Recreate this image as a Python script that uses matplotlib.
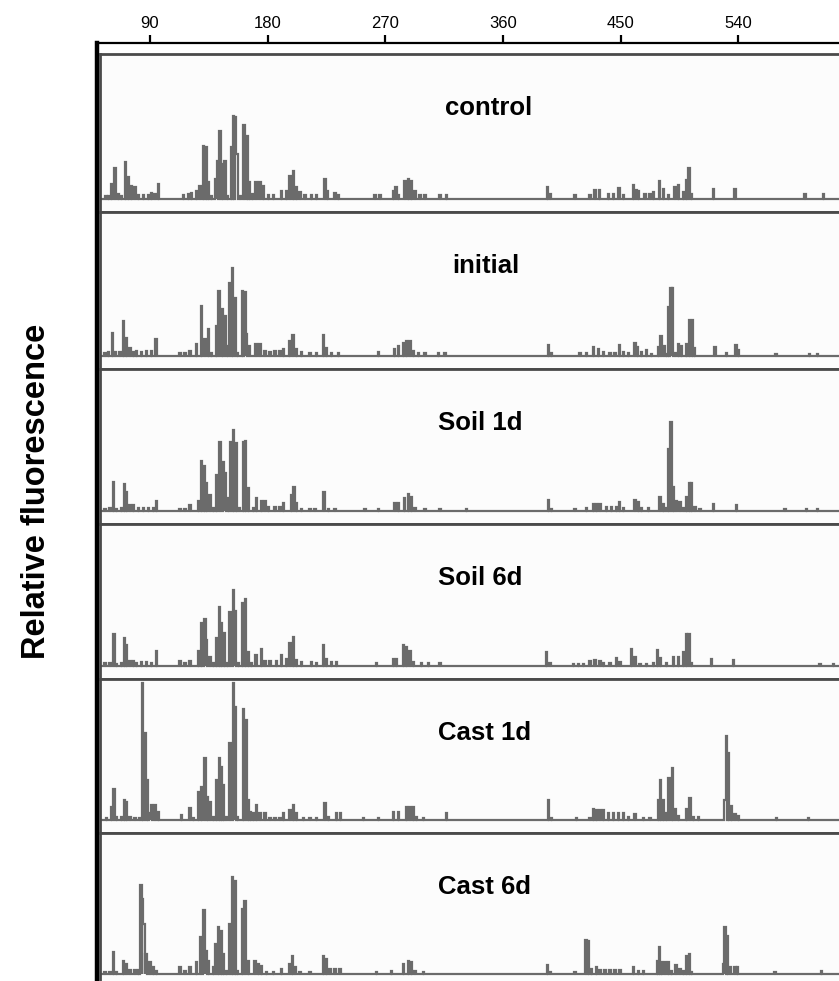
import matplotlib
matplotlib.use("Agg")
import matplotlib.pyplot as plt

plt.rcParams["font.family"] = ["Liberation Sans", "DejaVu Sans"]

# ---- fragment size axis ----
tick_values = [90, 180, 270, 360, 450, 540]
sample_names = ["control", "initial", "Soil 1d", "Soil 6d", "Cast 1d", "Cast 6d"]

# ---- peak positions (bp) and heights (relative fluorescence) per sample ----
control_pos = [56.3, 58.1, 60.6, 63.2, 65.7, 68.3, 71.4, 73.4, 76.0, 78.5, 81.0, 84.9, 88.7, 91.2, 93.8, 96.3,
               115.5, 119.3, 121.9, 125.7, 128.2, 130.8, 133.3, 134.6, 137.1, 140.5, 141.7, 143.5, 145.6, 147.3,
               149.1, 152.5, 153.7, 155.5, 156.5, 158.8, 161.9, 164.4, 166.0, 168.5, 171.1, 174.1, 176.7, 180.5,
               184.3, 190.7, 194.5, 197.1, 199.6, 202.2, 204.7, 208.5, 213.6, 217.5, 223.9, 225.6, 231.5, 234.0,
               262.1, 265.9, 276.1, 278.2, 279.9, 285.1, 287.6, 290.1, 292.7, 296.5, 300.3, 311.8, 316.9,
               394.2, 396.0, 415.1, 426.6, 430.4, 433.7, 440.6, 444.5, 448.8, 452.1, 459.8, 461.8, 463.6, 468.7,
               472.5, 475.1, 479.6, 482.7, 486.5, 491.6, 494.2, 498.0, 500.6, 502.3, 504.4, 521.0, 537.5, 591.1,
               605.1]
control_h = [3, 3, 15, 31, 5, 3, 37, 22, 13, 12, 4, 4, 4, 6, 5, 15,
             4, 5, 6, 8, 13, 53, 52, 17, 3, 20, 38, 68, 35, 38,
             3, 52, 83, 82, 45, 3, 74, 63, 17, 5, 17, 17, 13, 4,
             4, 8, 8, 23, 28, 12, 7, 4, 4, 4, 20, 8, 6, 4,
             4, 4, 8, 12, 4, 18, 20, 18, 8, 4, 4, 4, 4,
             12, 5, 4, 4, 9, 9, 5, 5, 11, 4, 14, 9, 8, 5,
             5, 7, 18, 10, 4, 12, 14, 7, 19, 31, 5, 10, 10, 5,
             5]

initial_pos = [55.6, 58.1, 61.2, 63.2, 67.0, 69.6, 72.1, 74.7, 77.2, 79.8, 83.6, 87.4, 91.3, 94.6, 112.9, 116.8,
               120.6, 125.7, 129.5, 132.1, 134.6, 137.2, 141.0, 142.8, 145.6, 147.4, 149.4, 151.2, 153.2, 155.0,
               157.0, 160.9, 162.7, 163.9, 165.7, 171.1, 174.1, 178.0, 181.8, 185.6, 189.4, 192.0, 196.6, 199.4,
               202.2, 206.0, 212.4, 217.5, 222.6, 225.1, 229.0, 234.1, 264.7, 276.9, 280.0, 283.8, 286.3, 288.9,
               291.4, 295.3, 300.3, 310.6, 315.7,
               394.8, 397.3, 419.0, 424.1, 429.2, 433.0, 436.9, 442.0, 445.8, 449.1, 452.2, 456.0, 461.1, 463.1,
               466.2, 470.0, 473.8, 478.9, 481.0, 483.3, 485.3, 486.8, 488.6, 489.9, 491.7, 494.2, 496.8, 500.6,
               502.6, 504.9, 506.5, 522.3, 531.2, 538.3, 540.1, 569.0, 594.4, 600.6]
initial_h = [3, 4, 23, 4, 4, 35, 18, 8, 4, 5, 4, 5, 5, 17, 3, 3,
             5, 12, 50, 17, 27, 3, 30, 65, 47, 40, 10, 73, 88, 58,
             3, 65, 64, 22, 10, 12, 12, 5, 4, 5, 5, 7, 15, 21,
             7, 4, 3, 3, 21, 8, 3, 3, 4, 7, 10, 13, 15, 15,
             5, 3, 3, 3, 3,
             11, 3, 3, 3, 9, 7, 4, 3, 3, 11, 4, 3, 13, 9,
             4, 6, 2, 9, 20, 10, 2, 49, 68, 68, 3, 12, 10, 12,
             36, 36, 8, 9, 3, 11, 6, 2, 2, 2]

soil1d_pos = [55.6, 59.4, 61.9, 64.5, 68.3, 70.3, 72.1, 74.7, 77.2, 81.1, 84.9, 88.7, 92.5, 95.1, 112.9, 116.8,
              120.6, 127.0, 129.5, 131.5, 133.3, 135.9, 138.4, 141.0, 143.5, 146.1, 147.4, 149.9, 151.9, 153.7,
              156.3, 158.1, 161.4, 163.2, 165.2, 169.0, 171.6, 175.4, 178.0, 180.5, 185.6, 189.4, 192.0, 198.3,
              200.1, 202.2, 206.0, 212.4, 216.2, 223.1, 226.4, 231.5, 254.5, 264.7, 277.4, 280.0, 284.5, 287.6,
              290.2, 292.7, 300.3, 311.8,
              332.3, 394.8, 397.3, 415.2, 424.1, 429.2, 431.8, 434.3, 439.4, 443.2, 447.1, 449.1, 452.2, 461.1,
              463.6, 466.2, 471.3, 480.2, 482.8, 484.8, 486.6, 488.6, 490.4, 492.4, 495.5, 498.6, 500.6, 502.6,
              504.4, 507.0, 510.8, 521.0, 538.9, 575.8, 592.4, 600.6]
soil1d_h = [2, 3, 29, 2, 3, 27, 19, 6, 6, 3, 3, 3, 3, 10, 2, 2,
            6, 10, 50, 45, 28, 16, 3, 36, 69, 49, 38, 13, 69, 81,
            68, 3, 69, 70, 23, 3, 13, 10, 10, 4, 4, 4, 8, 16,
            24, 8, 2, 2, 2, 19, 2, 2, 2, 2, 8, 8, 13, 17,
            14, 3, 2, 2,
            2, 11, 2, 2, 3, 7, 7, 7, 4, 4, 4, 9, 3, 11,
            9, 3, 3, 14, 7, 3, 62, 89, 24, 10, 9, 3, 14, 28,
            28, 4, 2, 7, 6, 2, 2, 2]

soil6d_pos = [55.6, 59.4, 62.4, 64.5, 68.3, 70.3, 72.1, 74.7, 77.2, 79.8, 83.6, 87.4, 91.3, 95.1, 112.9, 116.8,
              120.6, 127.0, 129.5, 132.1, 133.3, 135.9, 138.4, 141.0, 143.0, 144.8, 146.8, 149.4, 151.2, 153.7,
              155.0, 157.6, 160.9, 163.2, 165.2, 167.8, 171.1, 175.4, 178.0, 181.8, 186.9, 190.7, 194.5, 197.1,
              199.6, 202.2, 206.0, 213.7, 217.5, 222.6, 225.1, 228.9, 232.8, 263.4, 276.1, 278.7, 283.8, 286.3,
              288.9, 291.4, 297.8, 302.9, 311.8,
              393.5, 396.0, 413.9, 417.7, 421.5, 426.6, 430.4, 434.3, 436.8, 441.9, 447.0, 449.6, 458.5, 461.0,
              464.9, 469.9, 475.1, 478.1, 480.7, 485.3, 490.4, 494.2, 498.0, 500.6, 502.3, 504.4, 519.7, 536.3,
              602.6, 612.8]
soil6d_h = [3, 3, 32, 2, 3, 28, 21, 5, 5, 3, 4, 4, 3, 15, 5, 3,
            5, 15, 43, 47, 26, 9, 3, 28, 59, 43, 33, 3, 54, 76,
            55, 3, 63, 67, 14, 3, 11, 17, 5, 5, 5, 11, 7, 23,
            29, 6, 4, 4, 3, 21, 7, 4, 4, 3, 7, 7, 21, 19,
            15, 4, 3, 3, 3,
            14, 3, 2, 2, 2, 5, 6, 5, 3, 3, 8, 4, 17, 9,
            2, 2, 3, 16, 8, 3, 9, 9, 14, 32, 32, 3, 7, 6,
            2, 2]

cast1d_pos = [56.8, 60.6, 62.4, 64.5, 68.3, 70.3, 72.1, 74.7, 78.5, 82.3, 84.1, 86.1, 87.9, 90.0, 91.2, 93.8,
              96.3, 114.2, 120.6, 123.1, 127.0, 129.5, 132.0, 133.8, 135.9, 138.4, 141.0, 143.0, 144.8, 146.1,
              148.1, 151.2, 153.7, 155.0, 156.8, 161.4, 163.4, 165.2, 167.0, 169.0, 171.6, 174.1, 177.9, 181.8,
              185.6, 189.4, 192.0, 197.1, 199.6, 202.2, 207.3, 212.4, 217.5, 223.9, 226.4, 232.8, 235.8, 253.2,
              264.6, 276.1, 279.9, 286.3, 288.9, 291.4, 294.0, 299.1, 316.9,
              394.7, 397.3, 416.4, 426.6, 429.2, 431.7, 434.3, 436.8, 440.6, 444.5, 448.3, 452.1, 455.9, 461.0,
              467.4, 472.5, 478.9, 480.7, 482.7, 485.3, 487.0, 489.6, 491.6, 494.2, 500.6, 503.1, 505.7, 509.5,
              529.9, 530.6, 532.4, 535.0, 537.5, 540.1, 569.4, 593.6]
cast1d_h = [2, 13, 31, 3, 3, 20, 18, 3, 2, 2, 137, 87, 40, 7, 15, 15,
            8, 5, 12, 2, 28, 33, 62, 23, 18, 3, 40, 62, 53, 35,
            3, 77, 137, 113, 3, 111, 100, 20, 8, 7, 15, 7, 7, 2,
            2, 2, 7, 10, 15, 7, 2, 2, 2, 17, 3, 7, 7, 2,
            2, 8, 8, 13, 13, 13, 3, 2, 7,
            20, 2, 2, 2, 11, 10, 10, 10, 7, 7, 7, 7, 3, 6,
            2, 2, 20, 40, 20, 7, 42, 52, 11, 4, 11, 22, 3, 3,
            20, 84, 67, 14, 6, 4, 2, 2]

cast6d_pos = [55.5, 59.4, 61.9, 64.5, 69.6, 71.6, 74.7, 78.5, 81.0, 83.1, 84.4, 85.4, 86.9, 90.0, 92.5, 95.1,
              112.9, 116.7, 120.6, 125.7, 129.0, 131.3, 132.8, 134.6, 138.4, 140.5, 142.2, 144.8, 146.1, 148.6,
              151.2, 153.2, 155.3, 156.8, 160.6, 162.6, 165.2, 170.3, 172.8, 175.4, 179.2, 184.3, 190.7, 197.1,
              198.9, 200.9, 204.7, 212.4, 222.6, 225.1, 227.7, 231.5, 235.3, 263.4, 274.8, 283.8, 287.6, 290.1,
              292.7, 299.1,
              394.0, 396.0, 415.1, 423.5, 425.3, 427.9, 431.7, 434.3, 438.1, 441.9, 445.7, 449.6, 459.8, 463.6,
              467.4, 478.1, 479.6, 481.4, 484.0, 486.5, 489.1, 492.4, 495.5, 498.0, 500.6, 502.6, 504.4, 528.6,
              529.9, 531.7, 533.7, 537.5, 539.3, 568.1, 603.8]
cast6d_h = [2, 2, 22, 2, 13, 10, 4, 4, 4, 89, 75, 50, 20, 12, 7, 3,
            7, 3, 7, 12, 37, 64, 23, 13, 7, 30, 47, 43, 20, 3,
            50, 97, 93, 3, 65, 73, 13, 13, 10, 8, 2, 2, 5, 10,
            18, 7, 2, 2, 18, 15, 5, 5, 5, 2, 3, 10, 13, 12,
            3, 2,
            9, 2, 2, 34, 33, 5, 7, 4, 4, 4, 4, 4, 7, 3,
            3, 13, 27, 12, 12, 12, 3, 9, 5, 3, 18, 20, 2, 10,
            47, 38, 7, 7, 7, 2, 3]

profiles = [(control_pos, control_h), (initial_pos, initial_h), (soil1d_pos, soil1d_h),
            (soil6d_pos, soil6d_h), (cast1d_pos, cast1d_h), (cast6d_pos, cast6d_h)]


def trace_path(pos, heights, start, stop, width=1.0):
    """Turn a list of peaks into a stepped electropherogram outline."""
    xs, ys = [start], [0.0]
    prev_r = None
    for p, v in sorted(zip(pos, heights)):
        left, right = p - width / 2, p + width / 2
        if prev_r is not None and left <= prev_r:
            left = prev_r
        else:
            if prev_r is not None:
                xs.append(prev_r)
                ys.append(0.0)
            xs.append(left)
            ys.append(0.0)
        xs += [left, right]
        ys += [v, v]
        prev_r = right
    xs += [prev_r, stop]
    ys += [0.0, 0.0]
    return xs, ys


# ---- figure layout (pixels) ----
W, H = 839, 981
fig = plt.figure(figsize=(W / 100, H / 100), dpi=100)
fig.patch.set_facecolor("white")

PX0, PX_PER_BP = 32.4, 1.307          # pixel column of 0 bp and scale


def px_to_bp(x):
    return (x - PX0) / PX_PER_BP


def add_px_axes(x0, y0, x1, y1):
    return fig.add_axes([x0 / W, 1 - y1 / H, (x1 - x0) / W, (y1 - y0) / H])


# outer frame with the size scale on top
frame = add_px_axes(97, 43, 870, 1000)
frame.set_xlim(px_to_bp(97), px_to_bp(870))
frame.set_ylim(0, 1)
frame.set_facecolor("white")
for side in ("right", "bottom"):
    frame.spines[side].set_visible(False)
frame.spines["top"].set_linewidth(1.6)
frame.spines["left"].set_linewidth(3.2)
frame.spines["top"].set_color("black")
frame.spines["left"].set_color("black")
frame.xaxis.tick_top()
frame.set_xticks(tick_values)
frame.set_xticklabels([str(t) for t in tick_values])
frame.tick_params(axis="x", direction="out", length=6, width=1.6, pad=3,
                  labelsize=12, colors="black")
frame.set_yticks([])

# stacked profile panels
panel_tops = [54, 212, 369, 524, 679, 833]
panel_bottoms = [212, 369, 524, 679, 833, 987]
label_centers_px = [489, 486, 480, 480, 485, 485]
x_left, x_right = 100, 870
for name, (pos, hts), top, bottom, lx in zip(sample_names, profiles, panel_tops,
                                               panel_bottoms, label_centers_px):
    ax = add_px_axes(x_left, top, x_right, bottom)
    ax.set_facecolor("#fcfcfc")
    lo, hi = px_to_bp(x_left), px_to_bp(x_right)
    xs, ys = trace_path(pos, hts, lo, hi)
    ax.plot(xs, ys, color="#6b6b6b", lw=1.6, solid_joinstyle="miter")
    height_px = bottom - top
    base_off = 13
    ax.set_ylim(-base_off, height_px - base_off)
    ax.set_xlim(lo, hi)
    ax.set_xticks([])
    ax.set_yticks([])
    for s in ax.spines.values():
        s.set_color("#4a4a4a")
        s.set_linewidth(2.0)
    ax.text(px_to_bp(lx), height_px - base_off - 61, name, ha="center", va="baseline",
            fontsize=18.5, fontweight="bold", color="black")

fig.text(37 / W, 1 - 491 / H, "Relative fluorescence", rotation=90, ha="center", va="center",
         fontsize=23.5, fontweight="bold", color="black")

fig.savefig("out.png", dpi=100)
